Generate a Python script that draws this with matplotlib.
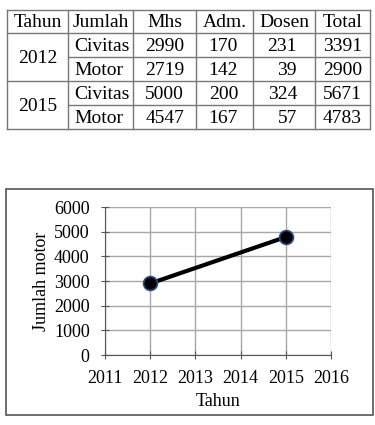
import numpy as np
import matplotlib
matplotlib.use("Agg")
import matplotlib.pyplot as plt

plt.rcParams['font.family'] = ['Liberation Serif', 'DejaVu Serif']

# table data
header = ["Tahun", "Jumlah", "Mhs", "Adm.", "Dosen", "Total"]
years = ["2012", "2015"]
kinds = ["Civitas", "Motor"]
mhs = [2990, 2719, 5000, 4547]
adm = [170, 142, 200, 167]
dosen = [231, 39, 324, 57]
total = [3391, 2900, 5671, 4783]

# chart data
tahun = [2012, 2015]
jumlah_motor = [2900, 4783]

W, H = 375, 425
fig = plt.figure(figsize=(W / 100, H / 100), dpi=100)

# ---- table, drawn in pixel coordinates
tab = fig.add_axes([0, 0, 1, 1])
tab.set_xlim(0, W)
tab.set_ylim(H, 0)
tab.axis("off")

col_x = [7, 68, 133, 196, 253, 315, 370]
row_y = [9.5, 33, 57, 81, 105, 129]
num_right = [184, 238, 297, 362]  # right edge of numbers per column
lc = "#777777"
fs = 14

for x in col_x:
    tab.plot([x, x], [row_y[0], row_y[-1]], color=lc, lw=1)
for i, y in enumerate(row_y):
    x0 = col_x[0] if i in (0, 1, 3, 5) else col_x[1]
    tab.plot([x0, col_x[-1]], [y, y], color=lc, lw=1)

for j, h in enumerate(header):
    tab.text((col_x[j] + col_x[j + 1]) / 2, (row_y[0] + row_y[1]) / 2 + 1, h,
             ha="center", va="center", fontsize=fs)

for k, yr in enumerate(years):
    tab.text((col_x[0] + col_x[1]) / 2, row_y[1 + 2 * k + 1] + 1, yr,
             ha="center", va="center", fontsize=fs)

for r in range(4):
    yc = (row_y[r + 1] + row_y[r + 2]) / 2 + 1
    tab.text(col_x[1] + 6, yc, kinds[r % 2], ha="left", va="center", fontsize=fs)
    for j, vals in enumerate([mhs, adm, dosen, total]):
        tab.text(num_right[j], yc, str(vals[r]), ha="right", va="center", fontsize=fs)

# chart frame
tab.add_patch(plt.Rectangle((6, 189), 367, 226, fill=False, ec="#555555", lw=1.2))

# ---- line chart
ax = fig.add_axes([105 / W, 1 - 355 / H, (331 - 105) / W, (355 - 207) / H])
ax.plot(tahun, jumlah_motor, color="black", lw=3, marker="o", markersize=10,
        markerfacecolor="black", markeredgecolor="#2a4f85", markeredgewidth=1.2, zorder=3)
ax.set_xlim(2011, 2016)
ax.set_ylim(0, 6000)
ax.set_xticks(range(2011, 2017))
ax.set_yticks(range(0, 6001, 1000))
ax.grid(True, color="#a8a8a8", lw=1)
for s in ["top", "right"]:
    ax.spines[s].set_visible(False)
ax.spines["left"].set_color("#555555")
ax.spines["bottom"].set_color("#555555")
ax.tick_params(labelsize=13, length=6, direction="inout", color="#555555")
ax.tick_params(axis="y", pad=8)
ax.tick_params(axis="x", pad=8)
ax.set_xlabel("Tahun", fontsize=13, labelpad=4)
ax.set_ylabel("Jumlah motor", fontsize=13, labelpad=3)

fig.savefig("out.png", dpi=100)
